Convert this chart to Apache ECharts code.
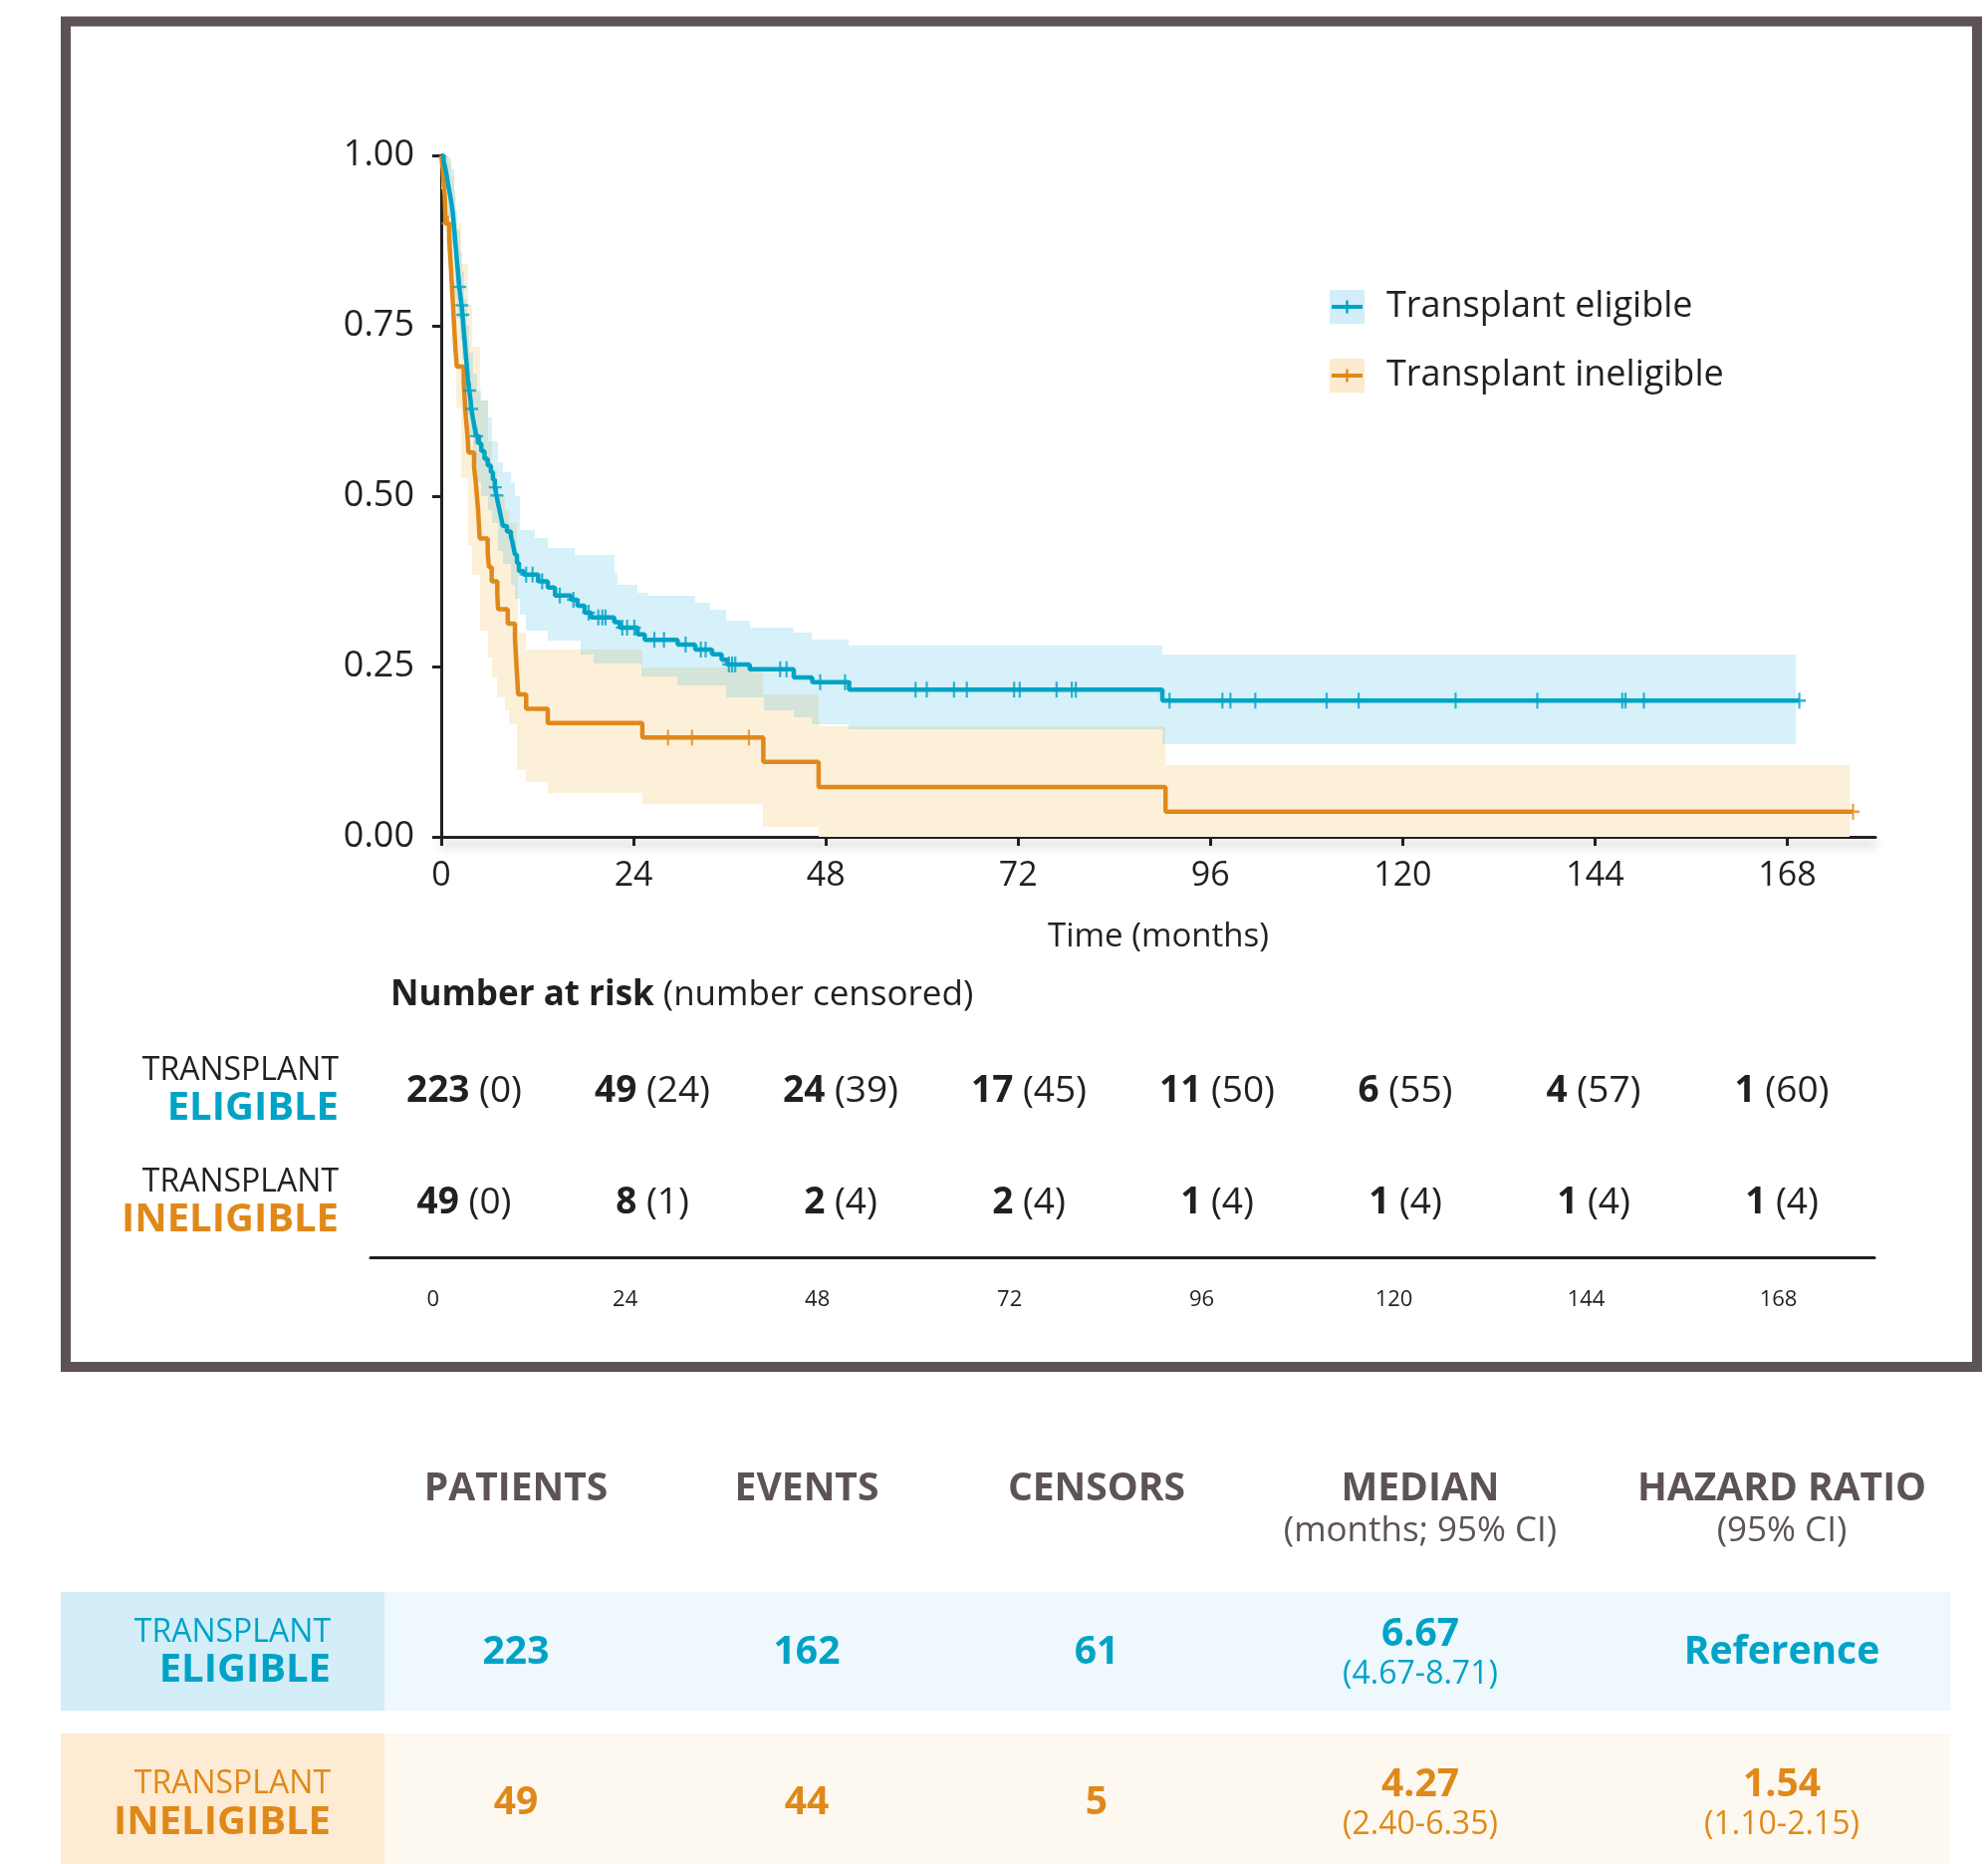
<!DOCTYPE html>
<html>
<head>
<meta charset="utf-8">
<title>transplant survival</title>
<style>
body {
    margin: 0;
    background: #fff;
}
#echart {
    width: 1996px;
    height: 1871px;
}
</style>
</head>
<body>
<div id="echart"></div>
<script src="https://cdn.jsdelivr.net/npm/echarts@6/dist/echarts.min.js"></script>
<script>
// Kaplan-Meier steps [months, survival]
let eligible_steps = [
    [0, 1.0], [0.3, 0.991], [0.5, 0.982], [0.7, 0.969], [0.9, 0.955], [1.1, 0.942], [1.3, 0.928], [1.45, 0.915],
    [1.55, 0.901], [1.65, 0.888], [1.75, 0.874], [1.85, 0.861], [1.95, 0.847], [2.05, 0.834], [2.15, 0.82],
    [2.25, 0.807], [2.4, 0.793], [2.55, 0.78], [2.65, 0.766], [2.75, 0.752], [2.85, 0.738], [2.95, 0.724],
    [3.05, 0.71], [3.15, 0.697], [3.25, 0.683], [3.35, 0.669], [3.5, 0.655], [3.65, 0.642], [3.75, 0.628],
    [3.95, 0.615], [4.15, 0.602], [4.35, 0.588], [4.7, 0.577], [5.0, 0.566], [5.4, 0.555], [5.8, 0.545],
    [6.2, 0.535], [6.45, 0.524], [6.7, 0.513], [6.9, 0.501], [7.1, 0.489], [7.3, 0.478], [7.5, 0.467],
    [7.7, 0.456], [8.2, 0.448], [8.7, 0.441], [8.9, 0.432], [9.05, 0.423], [9.2, 0.414], [9.45, 0.402],
    [9.7, 0.39], [10.3, 0.385], [12.1, 0.375], [13.3, 0.366], [14.2, 0.354], [16.2, 0.348], [17.0, 0.339],
    [17.9, 0.329], [18.7, 0.322], [21.6, 0.315], [22.3, 0.307], [24.5, 0.297], [25.4, 0.289], [29.5, 0.282],
    [31.7, 0.275], [33.8, 0.268], [35.0, 0.26], [35.7, 0.253], [38.5, 0.246], [44.0, 0.234], [46.3, 0.227],
    [50.9, 0.216], [90.0, 0.2], [169.5, 0.2],
]
let eligible_censors = [
    [2.3, 0.807], [2.58, 0.78], [2.7, 0.766], [3.55, 0.655], [3.8, 0.628], [4.4, 0.588], [6.75, 0.513], [6.95, 0.501],
    [10.6, 0.385], [11.4, 0.385], [12.6, 0.375], [14.8, 0.354], [16.5, 0.348], [18.4, 0.329], [19.6, 0.322],
    [20.1, 0.322], [20.5, 0.322], [22.6, 0.307], [23.2, 0.307], [24.1, 0.307], [26.6, 0.289], [27.8, 0.289],
    [30.5, 0.282], [32.4, 0.275], [33.0, 0.275], [35.9, 0.253], [36.3, 0.253], [36.7, 0.253], [42.3, 0.246],
    [43.1, 0.246], [47.3, 0.227], [50.4, 0.227], [59.2, 0.216], [60.6, 0.216], [64.0, 0.216], [65.6, 0.216],
    [71.5, 0.216], [72.2, 0.216], [76.8, 0.216], [78.7, 0.216], [79.2, 0.216], [90.9, 0.2], [97.5, 0.2],
    [98.5, 0.2], [101.6, 0.2], [110.5, 0.2], [114.5, 0.2], [126.6, 0.2], [136.8, 0.2], [147.4, 0.2],
    [147.8, 0.2], [150.1, 0.2], [169.5, 0.2],
]
// confidence band [months, lower, upper]; each row holds until the next one
let eligible_band = [
    [0, 0.97, 1.0], [0.5, 0.95, 1.0], [0.9, 0.91, 0.995], [1.3, 0.87, 0.98], [1.6, 0.83, 0.95], [1.8, 0.79, 0.92],
    [2.0, 0.76, 0.89], [2.3, 0.73, 0.86], [2.6, 0.70, 0.83], [2.9, 0.66, 0.79], [3.2, 0.62, 0.75], [3.5, 0.59, 0.71],
    [4.0, 0.55, 0.68], [4.5, 0.52, 0.655], [5.0, 0.50, 0.64], [5.8, 0.48, 0.615], [6.4, 0.46, 0.58],
    [7.1, 0.42, 0.55], [7.7, 0.40, 0.535], [8.7, 0.37, 0.52], [9.2, 0.35, 0.50], [9.8, 0.326, 0.45],
    [10.6, 0.302, 0.45], [11.7, 0.302, 0.439], [13.3, 0.288, 0.424], [16.6, 0.288, 0.414], [17.4, 0.268, 0.414],
    [19.0, 0.255, 0.414], [21.6, 0.255, 0.387], [22.0, 0.255, 0.370], [24.5, 0.255, 0.358], [25.0, 0.235, 0.358],
    [25.8, 0.235, 0.354], [29.5, 0.222, 0.354], [31.7, 0.222, 0.344], [33.6, 0.222, 0.334], [35.5, 0.205, 0.317],
    [38.5, 0.205, 0.307], [40.3, 0.185, 0.307], [44.0, 0.175, 0.300], [46.3, 0.165, 0.290], [50.9, 0.158, 0.281],
    [90.0, 0.136, 0.267], [169.0, 0.136, 0.267],
]
let ineligible_steps = [
    [0, 1.0], [0.2, 0.98], [0.3, 0.959], [0.45, 0.939], [0.55, 0.9], [1.0, 0.879], [1.1, 0.858], [1.2, 0.837],
    [1.3, 0.816], [1.4, 0.795], [1.5, 0.774], [1.6, 0.753], [1.7, 0.732], [1.8, 0.711], [1.95, 0.69], [2.8, 0.669],
    [2.9, 0.648], [3.0, 0.627], [3.15, 0.606], [3.3, 0.585], [3.4, 0.564], [4.1, 0.543], [4.3, 0.522],
    [4.45, 0.501], [4.6, 0.48], [4.7, 0.459], [4.8, 0.438], [5.8, 0.417], [5.95, 0.396], [6.3, 0.375],
    [7.0, 0.355], [7.1, 0.334], [8.3, 0.313], [9.2, 0.292], [9.3, 0.271], [9.4, 0.25], [9.5, 0.23], [9.6, 0.209],
    [10.6, 0.188], [13.3, 0.167], [25.1, 0.146], [40.2, 0.11], [47.1, 0.073], [90.4, 0.037], [176.2, 0.037],
]
let ineligible_censors = [[0.85, 0.9], [28.3, 0.146], [31.3, 0.146], [38.4, 0.146], [176.2, 0.037]]
let ineligible_band = [
    [0, 0.95, 1.0], [0.3, 0.92, 1.0], [0.6, 0.86, 1.0], [1.0, 0.80, 0.99], [1.3, 0.75, 0.97], [1.6, 0.70, 0.94],
    [1.9, 0.63, 0.90], [2.5, 0.526, 0.84], [3.3, 0.428, 0.78], [3.9, 0.385, 0.72], [4.9, 0.302, 0.64],
    [5.8, 0.263, 0.58], [6.3, 0.234, 0.54], [7.0, 0.205, 0.50], [8.0, 0.185, 0.48], [8.5, 0.165, 0.46],
    [9.4, 0.098, 0.42], [9.6, 0.098, 0.30], [10.6, 0.080, 0.275], [13.3, 0.064, 0.275], [25.1, 0.048, 0.248],
    [40.2, 0.015, 0.209], [47.1, 0, 0.162], [90.4, 0, 0.105], [175.8, 0, 0.105],
]
let time_ticks = [0, 24, 48, 72, 96, 120, 144, 168]
let risk_rows = ['INELIGIBLE', 'ELIGIBLE']
let eligible_at_risk = [223, 49, 24, 17, 11, 6, 4, 1]
let eligible_censored = [0, 24, 39, 45, 50, 55, 57, 60]
let ineligible_at_risk = [49, 8, 2, 2, 1, 1, 1, 1]
let ineligible_censored = [0, 1, 4, 4, 4, 4, 4, 4]
let summary_headers = ['PATIENTS', 'EVENTS', 'CENSORS', 'MEDIAN', 'HAZARD RATIO']
let summary_subheaders = ['', '', '', '(months; 95% CI)', '(95% CI)']
let eligible_summary = ['223', '162', '61', '6.67', 'Reference']
let eligible_summary_ci = ['', '', '', '(4.67-8.71)', '']
let ineligible_summary = ['49', '44', '5', '4.27', '1.54']
let ineligible_summary_ci = ['', '', '', '(2.40-6.35)', '(1.10-2.15)']

let BLUE = '#00a3c6'
let ORANGE = '#e0891b'
let INK = '#231f20'
let GRAY = '#5d5354'
let FONT = "'Open Sans', sans-serif"
let PLUS = 'path://M-1.7,-10H1.7V-1.5H10V1.5H1.7V10H-1.7V1.5H-10V-1.5H-1.7Z'

function band_items(band) {
    let items = []
    for (let i = 0; i + 1 < band.length; i++)
        items.push([band[i][0], band[i + 1][0], band[i][1], band[i][2]])
    return items
}
function band_renderer(fill) {
    return function (params, api) {
        let a = api.coord([api.value(0), api.value(3)])
        let b = api.coord([api.value(1), api.value(2)])
        let x0 = Math.round(a[0]), x1 = Math.round(b[0])
        let y0 = Math.round(a[1]), y1 = Math.round(b[1])
        return {type: 'rect', shape: {x: x0, y: y0, width: x1 - x0, height: y1 - y0}, style: {fill}}
    }
}
function render_risk(params, api) {
    let p = api.coord([api.value(0), api.value(1)])
    return {
        type: 'text', x: p[0], y: p[1],
        style: {
            text: `{b|${api.value(2)}} {n|(${api.value(3)})}`,
            align: 'center', verticalAlign: 'middle',
            rich: {
                b: {fontFamily: FONT, fontSize: 37, fontWeight: 'bold', fill: INK},
                n: {fontFamily: FONT, fontSize: 37, fontWeight: 'normal', fill: INK},
            },
            font: `37px ${FONT}`, fill: INK,
        },
    }
}
function legend_icon(back, line) {
    let svg = `<svg xmlns='http://www.w3.org/2000/svg' width='35' height='35'>` +
        `<rect width='35' height='35' fill='${back}'/>` +
        `<rect x='2' y='15.5' width='31' height='4' fill='${line}'/>` +
        `<rect x='16.3' y='11' width='2.4' height='13' fill='${line}'/></svg>`
    return 'image://data:image/svg+xml;charset=utf-8,' + encodeURIComponent(svg)
}

let graphic = [
    {type: 'rect', shape: {x: 66, y: 21.5, width: 1919, height: 1350.5}, style: {fill: 'none', stroke: GRAY, lineWidth: 10}},
    {type: 'rect', shape: {x: 61, y: 1598, width: 1897, height: 119}, style: {fill: '#eef8fd'}},
    {type: 'rect', shape: {x: 61, y: 1598, width: 325, height: 119}, style: {fill: '#d3eef9'}},
    {type: 'rect', shape: {x: 61, y: 1740, width: 1897, height: 131}, style: {fill: '#fdf8f0'}},
    {type: 'rect', shape: {x: 61, y: 1740, width: 325, height: 131}, style: {fill: '#fdecd3'}},
    {type: 'text', x: 332, y: 1639, style: {text: 'TRANSPLANT', fill: BLUE, font: `32px ${FONT}`, align: 'right', verticalAlign: 'middle'}},
    {type: 'text', x: 332, y: 1677, style: {text: 'ELIGIBLE', fill: BLUE, font: `bold 40px ${FONT}`, align: 'right', verticalAlign: 'middle'}},
    {type: 'text', x: 332, y: 1791, style: {text: 'TRANSPLANT', fill: ORANGE, font: `32px ${FONT}`, align: 'right', verticalAlign: 'middle'}},
    {type: 'text', x: 332, y: 1830, style: {text: 'INELIGIBLE', fill: ORANGE, font: `bold 40px ${FONT}`, align: 'right', verticalAlign: 'middle'}},
]
let columns = [518, 810, 1101, 1426, 1789]
columns.forEach(function (x, i) {
    graphic.push({type: 'text', x, y: 1495, style: {text: summary_headers[i], fill: GRAY, font: `bold 39px ${FONT}`, align: 'center', verticalAlign: 'middle'}})
    if (summary_subheaders[i])
        graphic.push({type: 'text', x, y: 1537, style: {text: summary_subheaders[i], fill: GRAY, font: `35px ${FONT}`, align: 'center', verticalAlign: 'middle'}})
    let rows = [
        [eligible_summary, eligible_summary_ci, BLUE, 1659],
        [ineligible_summary, ineligible_summary_ci, ORANGE, 1810],
    ]
    for (let [values, cis, color, y] of rows) {
        let has_ci = !!cis[i]
        graphic.push({type: 'text', x, y: has_ci ? y - 18 : y, style: {text: values[i], fill: color, font: `bold 39px ${FONT}`, align: 'center', verticalAlign: 'middle'}})
        if (has_ci)
            graphic.push({type: 'text', x, y: y + 22, style: {text: cis[i], fill: color, font: `32px ${FONT}`, align: 'center', verticalAlign: 'middle'}})
    }
})

let echart = echarts.init(document.querySelector('#echart'), null, {renderer: 'canvas'})
let option = {
    animation: false,
    textStyle: {fontFamily: FONT},
    title: {
        text: '{b|Number at risk} (number censored)',
        left: 387, top: 977,
        textStyle: {fontFamily: FONT, fontSize: 35, fontWeight: 'normal', color: INK, rich: {b: {fontFamily: FONT, fontSize: 35, fontWeight: 'bold', color: INK}}},
    },
    legend: {
        orient: 'vertical', left: 1335, top: 290, padding: 0,
        itemWidth: 35, itemHeight: 35, itemGap: 33, selectedMode: false,
        textStyle: {fontFamily: FONT, fontSize: 36, color: INK, lineHeight: 35, padding: [0, 0, 0, 17]},
        data: [
            {name: 'Transplant eligible', icon: legend_icon('#d3eefa', BLUE)},
            {name: 'Transplant ineligible', icon: legend_icon('#fdebcf', ORANGE)},
        ],
    },
    grid: [
        {left: 443, top: 156, width: 1440, height: 684},
        {left: 466, top: 1039, width: 1323, height: 224},
        {left: 372, top: 1261, width: 1510, height: 1},
    ],
    xAxis: [
        {
            gridIndex: 0, type: 'value', min: 0, max: 179,
            name: 'Time (months)', nameLocation: 'middle', nameGap: 84,
            nameTextStyle: {fontFamily: FONT, fontSize: 33, color: INK},
            axisLine: {lineStyle: {color: INK, width: 3, shadowBlur: 10, shadowColor: 'rgba(0,0,0,0.3)', shadowOffsetY: 7}},
            axisTick: {length: 9, lineStyle: {color: INK, width: 3}, customValues: time_ticks},
            axisLabel: {fontFamily: FONT, fontSize: 34, color: INK, margin: 22, customValues: time_ticks},
            splitLine: {show: false},
        },
        {gridIndex: 1, type: 'value', min: 0, max: 168, show: false},
        {
            gridIndex: 2, type: 'value', min: -7.8, max: 180,
            axisLine: {lineStyle: {color: INK, width: 3}},
            axisTick: {show: false},
            axisLabel: {fontFamily: FONT, fontSize: 22, color: INK, margin: 32, customValues: time_ticks},
            splitLine: {show: false},
        },
    ],
    yAxis: [
        {
            gridIndex: 0, type: 'value', min: 0, max: 1, interval: 0.25,
            axisLine: {show: true, lineStyle: {color: INK, width: 3}},
            axisTick: {show: true, length: 9, lineStyle: {color: INK, width: 3}},
            axisLabel: {fontFamily: FONT, fontSize: 36, color: INK, margin: 27, formatter: v => v.toFixed(2)},
            splitLine: {show: false},
        },
        {
            gridIndex: 1, type: 'category', data: risk_rows,
            axisLine: {show: false}, axisTick: {show: false},
            axisLabel: {
                margin: 126,
                formatter: v => `{t|TRANSPLANT}\n{${v === 'ELIGIBLE' ? 'e' : 'i'}|${v}}`,
                rich: {
                    t: {fontFamily: FONT, fontSize: 32, color: INK, lineHeight: 36},
                    e: {fontFamily: FONT, fontSize: 40, fontWeight: 'bold', color: BLUE, lineHeight: 40},
                    i: {fontFamily: FONT, fontSize: 40, fontWeight: 'bold', color: ORANGE, lineHeight: 40},
                },
            },
            splitLine: {show: false},
        },
        {gridIndex: 2, type: 'value', show: false},
    ],
    series: [
        {
            name: 'Transplant ineligible', type: 'custom', xAxisIndex: 0, yAxisIndex: 0, z: 1,
            renderItem: band_renderer('#fdf0d9'), encode: {x: [0, 1], y: [2, 3]},
            data: band_items(ineligible_band), silent: true,
        },
        {
            name: 'Transplant eligible', type: 'custom', xAxisIndex: 0, yAxisIndex: 0, z: 2,
            renderItem: band_renderer('rgba(0,168,216,0.16)'), encode: {x: [0, 1], y: [2, 3]},
            data: band_items(eligible_band), silent: true,
        },
        {
            name: 'Transplant ineligible', type: 'line', step: 'end', z: 3,
            data: ineligible_steps, showSymbol: false, color: ORANGE,
            lineStyle: {color: ORANGE, width: 4.5},
        },
        {
            name: 'Transplant ineligible', type: 'scatter', z: 3,
            data: ineligible_censors, symbol: PLUS, symbolSize: [13, 16], itemStyle: {color: ORANGE},
        },
        {
            name: 'Transplant eligible', type: 'line', step: 'end', z: 4,
            data: eligible_steps, showSymbol: false, color: BLUE,
            lineStyle: {color: BLUE, width: 4.5},
        },
        {
            name: 'Transplant eligible', type: 'scatter', z: 4,
            data: eligible_censors, symbol: PLUS, symbolSize: [13, 16], itemStyle: {color: BLUE},
        },
        {
            name: 'risk', type: 'custom', xAxisIndex: 1, yAxisIndex: 1, silent: true,
            renderItem: render_risk, encode: {x: 0, y: 1},
            data: time_ticks.map((t, i) => [t, 'ELIGIBLE', eligible_at_risk[i], eligible_censored[i]])
                .concat(time_ticks.map((t, i) => [t, 'INELIGIBLE', ineligible_at_risk[i], ineligible_censored[i]])),
        },
    ],
    graphic,
}
echart.setOption(option)
</script>
</body>
</html>
